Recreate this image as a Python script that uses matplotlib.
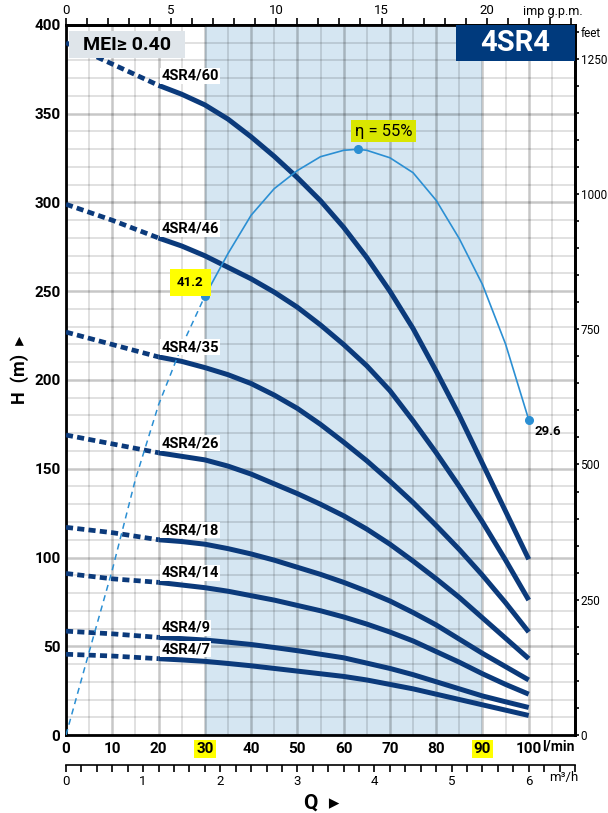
import matplotlib.pyplot as plt
import numpy as np
from matplotlib.patches import Rectangle
from matplotlib.ticker import MultipleLocator, FixedLocator

plt.rcParams['font.family'] = ['Roboto', 'DejaVu Sans']

# flow (l/min) where the head values are read
q = [0, 10, 20, 25, 30, 35, 40, 45, 50, 55, 60, 65, 70, 75, 80, 85, 90, 95, 100]
q_solid_from = 20  # curves are dashed below this flow

models = ['4SR4/60', '4SR4/46', '4SR4/35', '4SR4/26', '4SR4/18', '4SR4/14', '4SR4/9', '4SR4/7']
h_60 = [390, 378, 366, 361, 355, 347, 337, 326, 314, 301, 286, 269, 250, 229, 205, 180, 153, 126, 99]
h_46 = [299, 290, 280, 275.5, 270, 263.5, 257, 249.5, 241, 231, 220, 208, 194, 177, 159, 140, 120, 98.5, 76]
h_35 = [227, 220, 213, 210.5, 207, 203, 198, 191.5, 184, 175, 165, 154.5, 143, 131, 118, 104.5, 90, 74.5, 58]
h_26 = [169, 164, 159, 157, 155, 151.5, 147, 141.5, 136, 130, 123.5, 116, 107.5, 98, 88, 77.5, 66, 54.5, 43]
h_18 = [117, 114, 110, 109, 107.5, 105, 102, 98.5, 94.5, 90.5, 86, 81, 75.5, 69, 62, 54, 46, 38.5, 31]
h_14 = [91, 88, 86, 84.5, 83, 81, 78.5, 76, 73, 70, 66.5, 62.5, 58, 53, 47, 41, 34.5, 28.5, 23]
h_9 = [58.5, 57, 55, 54.3, 53.5, 52.3, 51, 49.3, 47.5, 45.5, 43.5, 40.5, 37.5, 34, 30, 26, 22, 18.7, 15.5]
h_7 = [45.5, 44.5, 43, 42.3, 41.5, 40.3, 39, 37.5, 36, 34.5, 33, 31, 28.5, 26, 23, 20, 17, 14, 11]
heads = [h_60, h_46, h_35, h_26, h_18, h_14, h_9, h_7]

# efficiency (%) - drawn on the head scale (x6)
q_eff_dash = [0, 5, 10, 15, 20, 25, 30]
eff_dash = [0, 7.8, 15.5, 24.0, 31.0, 36.5, 41.2]
q_eff = [30, 35, 40, 45, 50, 55, 60, 63, 65, 70, 75, 80, 85, 90, 95, 100]
eff = [41.2, 45.2, 48.8, 51.3, 53.0, 54.3, 54.9, 55.0, 54.9, 54.2, 52.8, 50.2, 46.6, 42.3, 36.7, 29.6]
eff_scale = 6
eff_marks_q = [30, 63, 100]
eff_marks = [41.2, 55.0, 29.6]

x_ticks = list(range(0, 101, 10))
y_ticks = list(range(0, 401, 50))
feet_ticks = [0, 250, 500, 750, 1000, 1250]

navy = '#0b3a7b'
light = '#2b8fd3'

fig = plt.figure(figsize=(6.08, 8.13), dpi=100)
ax = fig.add_axes([66 / 608, 1 - 735 / 813, 509 / 608, 710 / 813])
ax.set_xlim(0, 110)
ax.set_ylim(0, 400)

# best efficiency zone
ax.axvspan(30, 90, color='#d5e6f2', zorder=0.2, lw=0)

ax.xaxis.set_major_locator(FixedLocator(x_ticks))
ax.xaxis.set_minor_locator(MultipleLocator(5))
ax.yaxis.set_major_locator(FixedLocator(y_ticks))
ax.yaxis.set_minor_locator(MultipleLocator(10))
ax.grid(which='minor', color='black', alpha=0.13, lw=1.3)
ax.grid(which='major', color='black', alpha=0.22, lw=1.8)
ax.set_axisbelow(True)
ax.tick_params(which='both', length=0)
ax.set_xticks(x_ticks, [str(v) for v in x_ticks])
ax.tick_params(axis='x', pad=5, labelsize=11)
ax.tick_params(axis='y', pad=4, labelsize=11)
for lbl in ax.get_xticklabels() + ax.get_yticklabels():
    lbl.set_fontweight('bold')
for lbl in ax.get_xticklabels():
    if lbl.get_text() in ('30', '90'):
        lbl.set_bbox(dict(facecolor='#ffff00', edgecolor='none', pad=1.5))
for s in ax.spines.values():
    s.set_linewidth(2)

# pump curves
qa = np.array(q)
for name, h in zip(models, heads):
    h = np.array(h)
    dash = qa <= q_solid_from
    solid = qa >= q_solid_from
    ax.plot(qa[dash], h[dash], color=navy, lw=3.4, ls=(0, (1.5, 0.9)), solid_capstyle='butt', zorder=3)
    ax.plot(qa[solid], h[solid], color=navy, lw=3.6, solid_capstyle='butt', solid_joinstyle='round', zorder=3)
    ax.text(20.6, h[2] + 1.5, name, fontsize=10.5, fontweight='bold', ha='left', va='bottom', zorder=4,
            bbox=dict(facecolor='white', edgecolor='none', pad=0.8))

# efficiency curve
ax.plot(q_eff_dash, np.array(eff_dash) * eff_scale, color=light, lw=1.1, ls=(0, (4, 3)), zorder=3.5)
ax.plot(q_eff, np.array(eff) * eff_scale, color=light, lw=1.2, zorder=3.5)
ax.plot(eff_marks_q, np.array(eff_marks) * eff_scale, 'o', color=light, ms=5.5, zorder=3.6)
ax.text(68.6, 340, 'η = 55%', fontsize=12, ha='center', va='center', zorder=5,
        bbox=dict(facecolor='#d9e600', edgecolor='none', pad=2.5))
ax.text(26.9, 255, '41.2', fontsize=9.5, fontweight='bold', ha='center', va='center', zorder=5,
        bbox=dict(facecolor='#ffff00', edgecolor='none', pad=5))
ax.text(101.2, 171, '29.6', fontsize=9.5, fontweight='bold', ha='left', va='center', zorder=5)

# MEI box
ax.add_patch(Rectangle((0.006, 0.9535), 0.228, 0.038, transform=ax.transAxes,
                       facecolor='#dfe5ea', edgecolor='none', zorder=6))
ax.text(0.12, 0.9725, 'MEI≥ 0.40', transform=ax.transAxes, fontsize=14, fontweight='bold',
        ha='center', va='center', zorder=7)

# model box
ax.add_patch(Rectangle((0.766, 0.949), 0.234, 0.051, transform=ax.transAxes,
                       facecolor='#003a7d', edgecolor='none', zorder=6))
ax.text(0.883, 0.9745, '4SR4', transform=ax.transAxes, fontsize=21, fontweight='bold',
        color='white', ha='center', va='center', zorder=7)

# units on main x axis
ax.text(106.4, -2.5, 'l/min', fontsize=10, fontweight='bold', ha='center', va='top')

# top axis: imp g.p.m.
top = ax.secondary_xaxis('top', functions=(lambda x: x / 4.546, lambda g: g * 4.546))
top.xaxis.set_major_locator(FixedLocator([0, 5, 10, 15, 20]))
top.xaxis.set_minor_locator(MultipleLocator(1))
top.tick_params(which='both', direction='out', length=5, width=1.2, labelsize=9.5, pad=1)
top.spines['top'].set_linewidth(2)
ax.text(105.3, 404, 'imp g.p.m.', fontsize=9, ha='center', va='bottom')

# right axis: feet
right = ax.secondary_yaxis('right', functions=(lambda h: h * 3.2808, lambda f: f / 3.2808))
right.yaxis.set_minor_locator(MultipleLocator(50))
right.set_yticks(feet_ticks + [1300], [str(v) for v in feet_ticks] + ['feet'])
right.tick_params(which='both', direction='out', length=3, width=1.2, labelsize=8.5, pad=1)
right.spines['right'].set_linewidth(2)

# bottom second axis: m3/h
bot = ax.secondary_xaxis(-30 / 710, functions=(lambda x: x * 0.06, lambda m: m / 0.06))
bot.xaxis.set_major_locator(FixedLocator([0, 1, 2, 3, 4, 5, 6]))
bot.xaxis.set_minor_locator(MultipleLocator(0.2))
bot.tick_params(which='both', direction='out', length=5, width=1.2, labelsize=9.5, pad=2)
bot.spines['bottom'].set_linewidth(1.2)
ax.text(107.5, -24, 'm³/h', fontsize=9.5, ha='center', va='center')

fig.text(20 / 608, 1 - 370 / 813, 'H  (m)  ▸', rotation=90, fontsize=13, fontweight='bold',
         ha='center', va='center')
fig.text(322 / 608, 1 - 803 / 813, 'Q  ▸', fontsize=15, fontweight='bold', ha='center', va='center')

fig.savefig('out.png', dpi=100)
